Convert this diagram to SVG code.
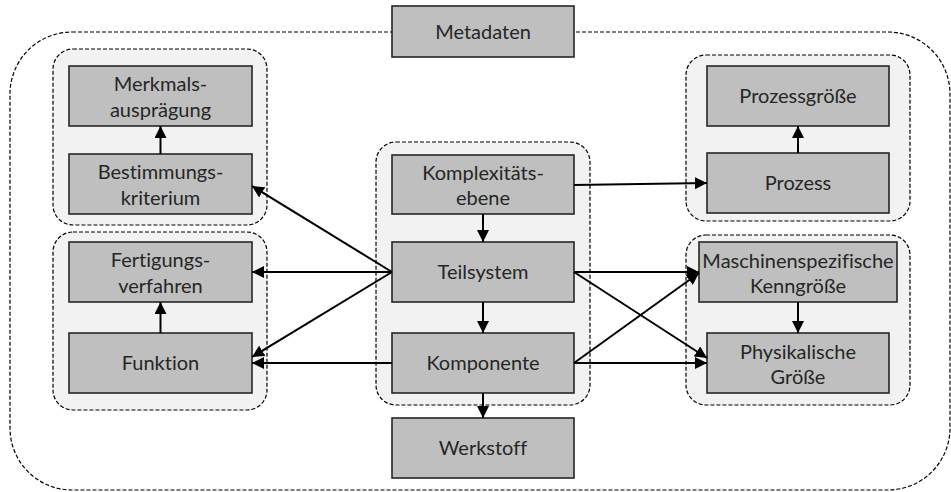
<svg xmlns="http://www.w3.org/2000/svg" width="951" height="492" viewBox="0 0 951 492">
<style>
.grp{fill:#f2f2f2;stroke:#000;stroke-width:1.2;stroke-dasharray:4 2}
.outer{fill:none;stroke:#000;stroke-width:1.2;stroke-dasharray:4 2}
.box{fill:#bfbfbf;stroke:#262626;stroke-width:1.6}
text{font-family:Lato,"Open Sans",sans-serif;font-size:20px;fill:#262626;text-anchor:middle;font-variant-ligatures:none}
.c line{stroke:#000;stroke-width:2;marker-end:url(#ah)}
</style>
<defs>
<marker id="ah" markerUnits="userSpaceOnUse" viewBox="0 0 12 12" refX="12" refY="6" markerWidth="12" markerHeight="12" orient="auto">
<path d="M0,0 L12,6 L0,12 z" fill="#000"/>
</marker>
</defs>
<rect width="951" height="492" fill="#fff"/>
<g id="outer-group">
<rect class="outer" x="10" y="32" width="940" height="458" rx="62" ry="62"/>
</g>
<g id="group-left-top"><rect class="grp" x="53" y="49" width="214" height="176" rx="20"/></g>
<g id="group-left-bottom"><rect class="grp" x="53" y="232" width="214" height="178" rx="20"/></g>
<g id="group-center"><rect class="grp" x="376" y="142" width="214" height="263" rx="20"/></g>
<g id="group-right-top"><rect class="grp" x="686" y="55" width="224" height="166" rx="20"/></g>
<g id="group-right-bottom"><rect class="grp" x="686" y="235" width="224" height="170" rx="20"/></g>

<g id="metadaten"><rect class="box" x="392" y="6" width="182" height="51"/><text x="483" y="39">Metadaten</text></g>
<g id="merkmalsauspraegung"><rect class="box" x="69" y="66" width="183" height="60"/><text x="160.5" y="91">Merkmals-</text><text x="160.5" y="117">ausprägung</text></g>
<g id="bestimmungskriterium"><rect class="box" x="69" y="154" width="183" height="60"/><text x="160.5" y="179">Bestimmungs-</text><text x="160.5" y="205">kriterium</text></g>
<g id="fertigungsverfahren"><rect class="box" x="69" y="242" width="183" height="60"/><text x="160.5" y="267">Fertigungs-</text><text x="160.5" y="293">verfahren</text></g>
<g id="funktion"><rect class="box" x="69" y="333" width="183" height="60"/><text x="160.5" y="370">Funktion</text></g>
<g id="komplexitaetsebene"><rect class="box" x="392" y="155" width="182" height="59"/><text x="483" y="180">Komplexitäts-</text><text x="483" y="205">ebene</text></g>
<g id="teilsystem"><rect class="box" x="392" y="242" width="182" height="60"/><text x="483" y="279">Teilsystem</text></g>
<g id="komponente"><rect class="box" x="392" y="333" width="182" height="60"/><text x="483" y="370">Komponente</text></g>
<g id="werkstoff"><rect class="box" x="392" y="418" width="182" height="60"/><text x="483" y="455">Werkstoff</text></g>
<g id="prozessgroesse"><rect class="box" x="707" y="66" width="182" height="60"/><text x="798" y="103">Prozessgröße</text></g>
<g id="prozess"><rect class="box" x="707" y="153" width="182" height="60"/><text x="798" y="190">Prozess</text></g>
<g id="maschinenspezifische-kenngroesse"><rect class="box" x="699" y="242" width="198" height="60"/><text x="798" y="268">Maschinenspezifische</text><text x="798" y="293">Kenngröße</text></g>
<g id="physikalische-groesse"><rect class="box" x="707" y="333" width="182" height="60"/><text x="798" y="359">Physikalische</text><text x="798" y="384">Größe</text></g>

<g id="connectors" class="c">
<line x1="160.5" y1="154" x2="160.5" y2="126"/>
<line x1="160.5" y1="333" x2="160.5" y2="302"/>
<line x1="798" y1="153" x2="798" y2="126"/>
<line x1="798" y1="302" x2="798" y2="333"/>
<line x1="483" y1="214" x2="483" y2="242"/>
<line x1="483" y1="302" x2="483" y2="333"/>
<line x1="483" y1="393" x2="483" y2="418"/>
<line x1="574" y1="185" x2="707" y2="183"/>
<line x1="392" y1="272" x2="252" y2="186"/>
<line x1="392" y1="272" x2="252" y2="272"/>
<line x1="392" y1="272" x2="252" y2="357"/>
<line x1="392" y1="363" x2="252" y2="363"/>
<line x1="574" y1="272" x2="699" y2="272"/>
<line x1="574" y1="272" x2="707" y2="358"/>
<line x1="574" y1="363" x2="699" y2="273"/>
<line x1="574" y1="363" x2="707" y2="363"/>
</g>
</svg>
